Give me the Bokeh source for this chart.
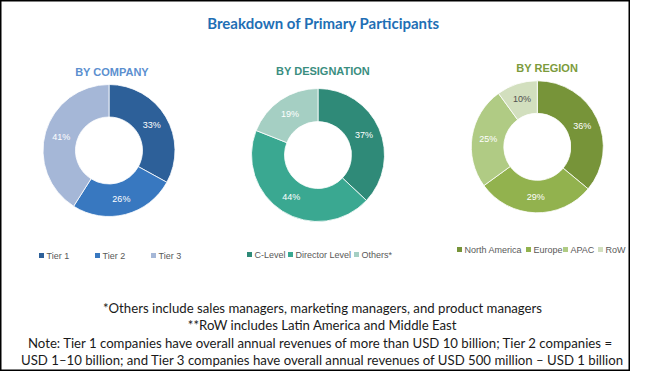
import math
from bokeh.plotting import figure
from bokeh.models import Range1d, ColumnDataSource
from bokeh.core.properties import value
from bokeh.embed import file_html
from bokeh.resources import INLINE

# ---------------- data ----------------
main_title = "Breakdown of Primary Participants"

company_title = "BY COMPANY"
company_labels = ["Tier 1", "Tier 2", "Tier 3"]
company_values = [33, 26, 41]

designation_title = "BY DESIGNATION"
designation_labels = ["C-Level", "Director Level", "Others*"]
designation_values = [37, 44, 19]

region_title = "BY REGION"
region_labels = ["North America", "Europe", "APAC", "RoW"]
region_values = [36, 29, 25, 10]

footnotes = [
    "*Others include sales managers, marketing managers, and product managers",
    "**RoW includes Latin America and Middle East",
    "Note:  Tier 1 companies have overall annual revenues of more than USD 10 billion; Tier 2 companies =",
    "USD 1\u201310 billion; and Tier 3 companies have overall annual revenues of USD 500 million \u2013 USD 1 billion",
]

# ---------------- styling / layout ----------------
W, H = 630, 371
def Y(v):
    return H - v

p = figure(width=W, height=H, x_range=Range1d(0, W), y_range=Range1d(0, H),
           output_backend="svg", toolbar_location=None, min_border=0)
p.axis.visible = False
p.grid.visible = False
p.outline_line_color = "#000000"
p.outline_line_width = 2
p.background_fill_color = "white"
p.border_fill_color = "white"

LABEL_FONT = value("Liberation Sans")

donuts = [
    dict(title=company_title, labels=company_labels, values=company_values,
         cx=108.5, cy=150, R=66, r=33.5, title_x=111.5, title_y=71, title_color="#5B8FCF",
         colors=["#2D6099", "#3878C0", "#A5B7D7"],
         label_colors=["white", "white", "white"],
         legend_y=255, legend_x=[41, 97, 153]),
    dict(title=designation_title, labels=designation_labels, values=designation_values,
         cx=317.5, cy=154.5, R=66.5, r=33.5, title_x=322.5, title_y=70, title_color="#3A8E80",
         colors=["#2F8A78", "#3AA891", "#A5CFC3"],
         label_colors=["white", "white", "white"],
         legend_y=254, legend_x=[249, 290, 356]),
    dict(title=region_title, labels=region_labels, values=region_values,
         cx=536.8, cy=146.3, R=66, r=33.5, title_x=546.7, title_y=67, title_color="#7C9B3C",
         colors=["#779439", "#92B24E", "#B0CB84", "#D2DFBE"],
         label_colors=["white", "white", "white", "#505050"],
         legend_y=249, legend_x=[459, 528, 565, 600]),
]

for d in donuts:
    vals = d["values"]
    total = float(sum(vals))
    starts, ends, lx, ly, ltxt = [], [], [], [], []
    cum = 0.0
    for v in vals:
        c0 = cum / total
        cum += v
        c1 = cum / total
        starts.append(math.pi / 2 - 2 * math.pi * c1)
        ends.append(math.pi / 2 - 2 * math.pi * c0)
        mid = math.pi / 2 - 2 * math.pi * (c0 + c1) / 2
        rl = (d["R"] + d["r"]) / 2
        lx.append(d["cx"] + rl * math.cos(mid))
        ly.append(Y(d["cy"]) + rl * math.sin(mid))
        ltxt.append(f"{v}%")
    src = ColumnDataSource(dict(start=starts, end=ends, color=d["colors"]))
    p.annular_wedge(x=d["cx"], y=Y(d["cy"]), inner_radius=d["r"], outer_radius=d["R"],
                    inner_radius_units="screen", outer_radius_units="screen",
                    start_angle="start", end_angle="end", direction="anticlock",
                    fill_color="color", line_color="white", line_width=0.8, source=src)
    p.text(x=lx, y=ly, text=ltxt, text_color=d["label_colors"], text_font=LABEL_FONT,
           text_font_size="9px", text_align="center", text_baseline="middle")
    # sub-title
    p.text(x=[d["title_x"]], y=[Y(d["title_y"])], text=[d["title"]], text_color=d["title_color"],
           text_font=LABEL_FONT, text_font_size="11px", text_font_style="bold",
           text_align="center", text_baseline="middle")
    # legend
    n = len(vals)
    p.scatter(x=d["legend_x"], y=[Y(d["legend_y"])] * n, marker="square", size=5,
              fill_color=d["colors"], line_color=None)
    p.text(x=[x + 5 for x in d["legend_x"]], y=[Y(d["legend_y"])] * n, text=d["labels"],
           text_color="#595959", text_font=LABEL_FONT, text_font_size="9px",
           text_align="left", text_baseline="middle")

# main title
p.text(x=[323], y=[Y(22)], text=[main_title], text_color="#1F6FB5", text_font=value("Lato"),
       text_font_size="15px", text_font_style="bold", text_align="center", text_baseline="middle")

# footnotes
foot_y = [307, 324.5, 342, 359.5]
p.text(x=[322] * len(footnotes), y=[Y(v) for v in foot_y], text=footnotes, text_color="#1A1A1A",
       text_font=value("Lato"), text_font_size="13.2px", text_align="center", text_baseline="middle")

open("out.html", "w").write(file_html(p, INLINE))
